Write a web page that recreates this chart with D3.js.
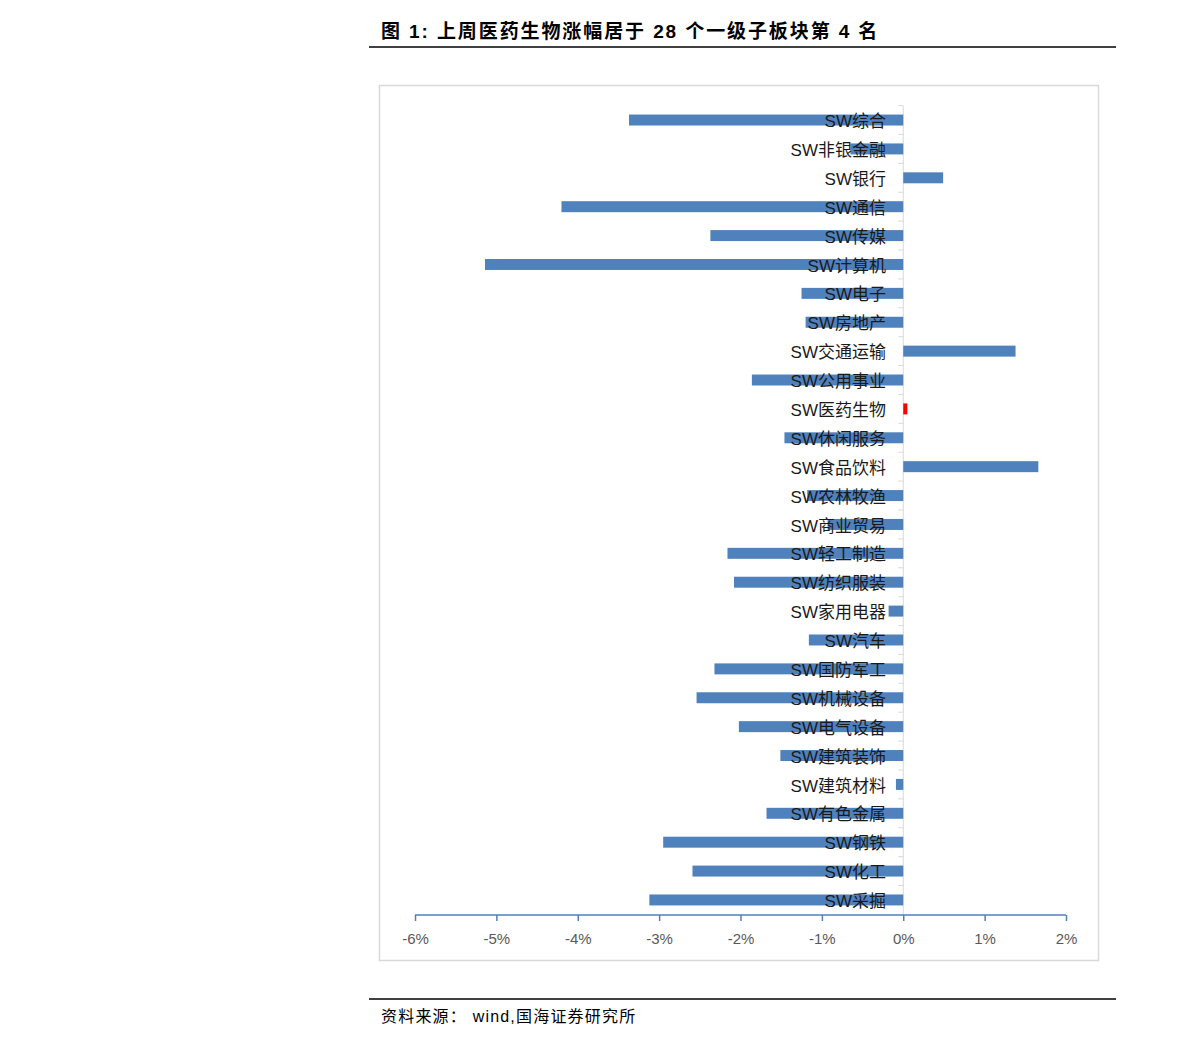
<!DOCTYPE html>
<html><head><meta charset="utf-8">
<script src="https://cdn.jsdelivr.net/npm/d3@7"></script>
<style>
body{margin:0;background:#fff;}
svg{display:block;}
</style></head>
<body>
<svg id="c" width="1191" height="1046"></svg>
<script>
const categories = ["SW综合","SW非银金融","SW银行","SW通信","SW传媒","SW计算机","SW电子","SW房地产","SW交通运输","SW公用事业","SW医药生物","SW休闲服务","SW食品饮料","SW农林牧渔","SW商业贸易","SW轻工制造","SW纺织服装","SW家用电器","SW汽车","SW国防军工","SW机械设备","SW电气设备","SW建筑装饰","SW建筑材料","SW有色金属","SW钢铁","SW化工","SW采掘"];
const values = [-3.37,-0.65,0.49,-4.20,-2.37,-5.14,-1.25,-1.20,1.38,-1.86,0.05,-1.46,1.66,-1.18,-0.93,-2.16,-2.08,-0.18,-1.16,-2.32,-2.54,-2.02,-1.51,-0.09,-1.68,-2.95,-2.59,-3.12];
const highlight = "SW医药生物";
const xTicks = [-6,-5,-4,-3,-2,-1,0,1,2];
const title = "图 1:  上周医药生物涨幅居于 28 个一级子板块第 4 名";
const source = "资料来源：  wind,国海证券研究所";

const svg = d3.select("#c");
const font = "'Liberation Sans', 'Noto Sans CJK SC', sans-serif";

// title
svg.append("text").attr("x",381).attr("y",38).attr("font-family",font)
  .attr("font-weight","bold").attr("font-size",19).attr("letter-spacing",1.9)
  .attr("fill","#000").text(title);
svg.append("line").attr("x1",369).attr("x2",1116).attr("y1",47).attr("y2",47)
  .attr("stroke","#000").attr("stroke-width",1.5);

// chart frame
svg.append("rect").attr("x",379.5).attr("y",85.5).attr("width",719).attr("height",875)
  .attr("fill","#fff").attr("stroke","#d9d9d9").attr("stroke-width",1.5);

const x = d3.scaleLinear().domain([-6,2]).range([415,1066]);
const y = d3.scaleBand().domain(categories).range([105.6,914.4]).paddingInner(0.62).paddingOuter(0.31);
const step = y.step();

// y axis line & ticks (gray)
const x0 = x(0);
svg.append("line").attr("x1",x0).attr("x2",x0).attr("y1",105.6).attr("y2",915)
  .attr("stroke","#d9d9d9").attr("stroke-width",1);
categories.forEach((c,i)=>{
  const yy = 105.6 + i*step;
  svg.append("line").attr("x1",x0-5).attr("x2",x0).attr("y1",yy).attr("y2",yy)
    .attr("stroke","#d9d9d9");
});

// bars
svg.append("g").selectAll("rect").data(categories).join("rect")
  .attr("x",(d,i)=>x(Math.min(0,values[i])))
  .attr("width",(d,i)=>Math.abs(x(values[i])-x(0)))
  .attr("y",d=>y(d)).attr("height",y.bandwidth())
  .attr("fill",d=>d===highlight?"#ff0000":"#4f81bd");

// category labels
svg.append("g").selectAll("text").data(categories).join("text")
  .attr("x",886).attr("y",d=>y(d)+y.bandwidth()/2+1).attr("dy","0.36em")
  .attr("text-anchor","end").attr("font-family",font).attr("font-size",17)
  .attr("fill","#1a1a1a").text(d=>d);

// x axis
const xa = svg.append("g").attr("transform","translate(0,915)")
  .call(d3.axisBottom(x).tickValues(xTicks).tickSize(6).tickPadding(12).tickFormat(d=>d+"%"));
xa.select(".domain").attr("stroke","#4f81bd").attr("stroke-width",1.5).attr("d","M415,0H1066");
xa.selectAll(".tick line").attr("stroke","#4f81bd").attr("stroke-width",1.5);
xa.selectAll(".tick text").attr("font-family",font).attr("font-size",15).attr("fill","#595959");

// footer
svg.append("line").attr("x1",369).attr("x2",1116).attr("y1",999).attr("y2",999)
  .attr("stroke","#000").attr("stroke-width",1.5);
svg.append("text").attr("x",381).attr("y",1022).attr("font-family",font)
  .attr("font-size",16).attr("letter-spacing",1.2).attr("fill","#000").text(source);
</script>
</body></html>
